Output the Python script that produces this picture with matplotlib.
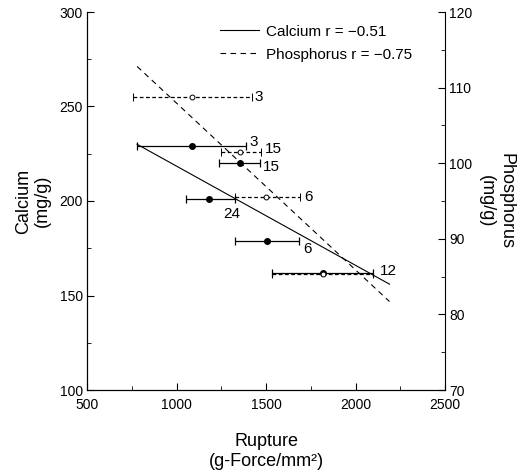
import numpy as np
import matplotlib.pyplot as plt
from matplotlib.ticker import MultipleLocator

plt.rcParams['font.family'] = ['Liberation Sans', 'DejaVu Sans']

# calcium means (filled) with horizontal range bars, n per group
ca_x = [1085, 1355, 1181, 1507, 1820]
ca_y = [229, 220, 201, 179, 162]
ca_lo = [778, 1239, 1053, 1327, 1535]
ca_hi = [1387, 1466, 1327, 1686, 2096]
ca_n = ['3', '15', '24', '6', '12']

# phosphorus means (open) on the right axis
p_x = [1085, 1355, 1500, 1820]
p_y = [108.7, 101.5, 95.5, 85.4]
p_lo = [755, 1247, 1327, 1535]
p_hi = [1420, 1472, 1690, 2096]
p_n = ['3', '15', '6', '']

# regression lines
ca_fit_x = [780, 2190]
ca_fit_y = [230, 156]
p_fit_x = [780, 2190]
p_fit_y = [112.8, 81.7]

xticks = [500, 1000, 1500, 2000, 2500]
ca_ticks = [100, 150, 200, 250, 300]
p_ticks = [70, 80, 90, 100, 110, 120]

# label offsets in pixels (dx, dy, ha, va)
ca_off = [(4, 4, 'left', 'center'), (3, -4, 'left', 'center'), (-3, -8, 'center', 'top'),
          (4, -8, 'left', 'center'), (7, 2, 'left', 'center')]
p_off = [(3, 0, 'left', 'center'), (4, 3, 'left', 'center'), (4, 0, 'left', 'center'),
         (0, 0, 'left', 'center')]

fig = plt.figure(figsize=(5.22, 4.75), dpi=100)
ax = fig.add_axes([87/522, 1 - 390/475, (445-87)/522, (390-12)/475])
ax2 = ax.twinx()

xe_ca = [np.subtract(ca_x, ca_lo), np.subtract(ca_hi, ca_x)]
xe_p = [np.subtract(p_x, p_lo), np.subtract(p_hi, p_x)]

ax.errorbar(ca_x, ca_y, xerr=xe_ca, fmt='o', color='black', ms=4,
            elinewidth=0.9, capsize=3, capthick=0.9)
eb = ax2.errorbar(p_x, p_y, xerr=xe_p, fmt='o', color='black', mfc='white',
                  ms=3.5, mew=0.7, elinewidth=0.9, capsize=3, capthick=0.9, zorder=1)
eb[2][0].set_linestyle((0, (3, 2)))

ax.plot(ca_fit_x, ca_fit_y, color='black', lw=0.8, label='Calcium r = \u22120.51')
ax2.plot(p_fit_x, p_fit_y, color='black', lw=0.8, ls=(0, (5, 4)),
         label='Phosphorus r = \u22120.75')

for i, lab in enumerate(ca_n):
    dx, dy, ha, va = ca_off[i]
    ax.annotate(lab, (ca_hi[i], ca_y[i]), xytext=(dx, dy), textcoords='offset pixels',
                ha=ha, va=va, fontsize=11)
for i, lab in enumerate(p_n):
    dx, dy, ha, va = p_off[i]
    ax2.annotate(lab, (p_hi[i], p_y[i]), xytext=(dx, dy), textcoords='offset pixels',
                 ha=ha, va=va, fontsize=11)

ax.set_xlim(500, 2500)
ax.set_ylim(100, 300)
ax2.set_ylim(70, 120)
ax.set_xticks(xticks)
ax.set_yticks(ca_ticks)
ax2.set_yticks(p_ticks)
ax.xaxis.set_minor_locator(MultipleLocator(250))
ax.yaxis.set_minor_locator(MultipleLocator(25))
ax2.yaxis.set_minor_locator(MultipleLocator(5))

for a in (ax, ax2):
    a.spines['top'].set_visible(False)
    a.tick_params(which='major', direction='in', length=5, width=0.8, labelsize=10, pad=3)
    a.tick_params(which='minor', direction='in', length=3, width=0.6)
ax.tick_params(axis='x', pad=6)
ax.spines['right'].set_visible(False)

ax.set_xlabel('Rupture\n(g-Force/mm\u00b2)', fontsize=13, labelpad=15, linespacing=1.25)
ax.set_ylabel('Calcium\n(mg/g)', fontsize=13, labelpad=6, linespacing=1.15)
ax2.set_ylabel('Phosphorus\n(mg/g)', fontsize=13, rotation=270, labelpad=30, linespacing=1.15)

h1, l1 = ax.get_legend_handles_labels()
h2, l2 = ax2.get_legend_handles_labels()
fig.legend(h1 + h2, l1 + l2, loc='upper left', bbox_to_anchor=(212/522, 1 - 17/475),
           frameon=False, fontsize=11, handlelength=2.6, handletextpad=0.45,
           borderpad=0, labelspacing=0.6)

plt.savefig('out.png', dpi=100)
